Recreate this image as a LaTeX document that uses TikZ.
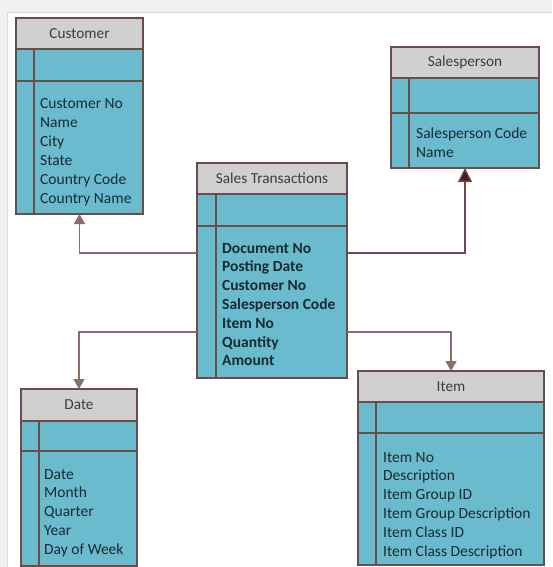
\documentclass[tikz,border=0pt]{standalone}
\usepackage{fontspec}
\setmainfont{Carlito}
\usetikzlibrary{arrows.meta,fit}
\definecolor{erteal}{HTML}{6BBBCE}
\definecolor{ergray}{HTML}{D0D0D0}
\definecolor{erbrown}{HTML}{6A4D49}
\definecolor{erconn}{HTML}{8A6E6A}
\definecolor{erdark}{HTML}{4A1F1A}
\definecolor{ertitlec}{HTML}{3C3C3C}
\definecolor{erfieldc}{HTML}{1A2A32}
\definecolor{bgout}{HTML}{F1F1F1}
\definecolor{panelb}{HTML}{DADADA}
\tikzset{
  erbody/.style={fill=erteal, draw=none, inner sep=0pt, outer sep=0pt},
  erhead/.style={fill=ergray},
  erline/.style={draw=erbrown, line width=1.5pt},
  ertitle/.style={text=ertitlec, font=\fontsize{15.3}{18}\selectfont, inner sep=0pt},
  erfield/.style={text=erfieldc, anchor=base west, inner sep=0pt},
  conn/.style={draw=erconn, line width=1.3pt},
  connarrow/.style={-{Triangle[width=11pt,length=10pt]}},
  conndark/.style={draw=erbrown, line width=1.3pt, -{Triangle[width=14pt,length=14pt,fill=erdark]}}
}
\newcommand\ertable[9]{%
  \node[erbody, fit={(#2,#3)(#4,#5)}] (#1) {};
  \fill[erhead] (#2,#3) rectangle (#4,#6);
  \node[ertitle] (#1-title) at ({(#2+#4)/2},{(#3+#6)/2}) {#9};
  \draw[erline] (#2,#6) -- (#4,#6) (#2,#7) -- (#4,#7) (#8,#6) -- (#8,#5);
  \draw[erline] (#2,#3) rectangle (#4,#5);
}
\newcommand\erfields[5]{%
  \foreach \t [count=\i] in {#5}
    \node[erfield, font=#4] (#1-f\i) at (#2,{#3+(\i-1)*18.8}) {\t};
}
\begin{document}
\begin{tikzpicture}[x=1pt,y=-1pt]
\useasboundingbox (0,0) rectangle (552,567);
\fill[bgout] (0,0) rectangle (552,567);
\fill[white] (7,12) rectangle (552,567);
\draw[panelb, line width=0.8pt] (7,567) -- (7,12) -- (552,12);

% tables
\ertable{cust}{16}{18}{143}{214}{49}{81}{34}{Customer}
\erfields{cust}{40}{109}{\fontsize{15.5}{18}\selectfont}{Customer No,Name,City,State,Country Code,Country Name}

\ertable{sales}{197}{163}{347}{378}{194}{226}{216}{Sales Transactions}
\erfields{sales}{222}{253}{\fontsize{15.5}{18}\bfseries\selectfont}{Document No,Posting Date,Customer No,Salesperson Code,Item No,Quantity,Amount}

\ertable{sp}{391}{47}{539}{168}{78}{113}{409}{Salesperson}
\erfields{sp}{416}{139}{\fontsize{15.5}{18}\selectfont}{Salesperson Code,Name}

\ertable{date}{21}{389}{137}{566}{421}{451}{39}{Date}
\erfields{date}{44}{479}{\fontsize{15.5}{18}\selectfont}{Date,Month,Quarter,Year,Day of Week}

\ertable{item}{358}{371}{544}{565}{402}{433}{376}{Item}
\erfields{item}{383}{462}{\fontsize{15.5}{18}\selectfont}{Item No,Description,Item Group ID,Item Group Description,Item Class ID,Item Class Description}

% connectors
\draw[conn, connarrow] (sales.west |- 0,253) -| (cust.south);
\draw[conndark] (sales.east |- 0,253) -| (sp.south);
\draw[conn, connarrow] (sales.west |- 0,332) -| (date.north);
\draw[conn, connarrow] (sales.east |- 0,332) -| (item.north);
\end{tikzpicture}
\end{document}
